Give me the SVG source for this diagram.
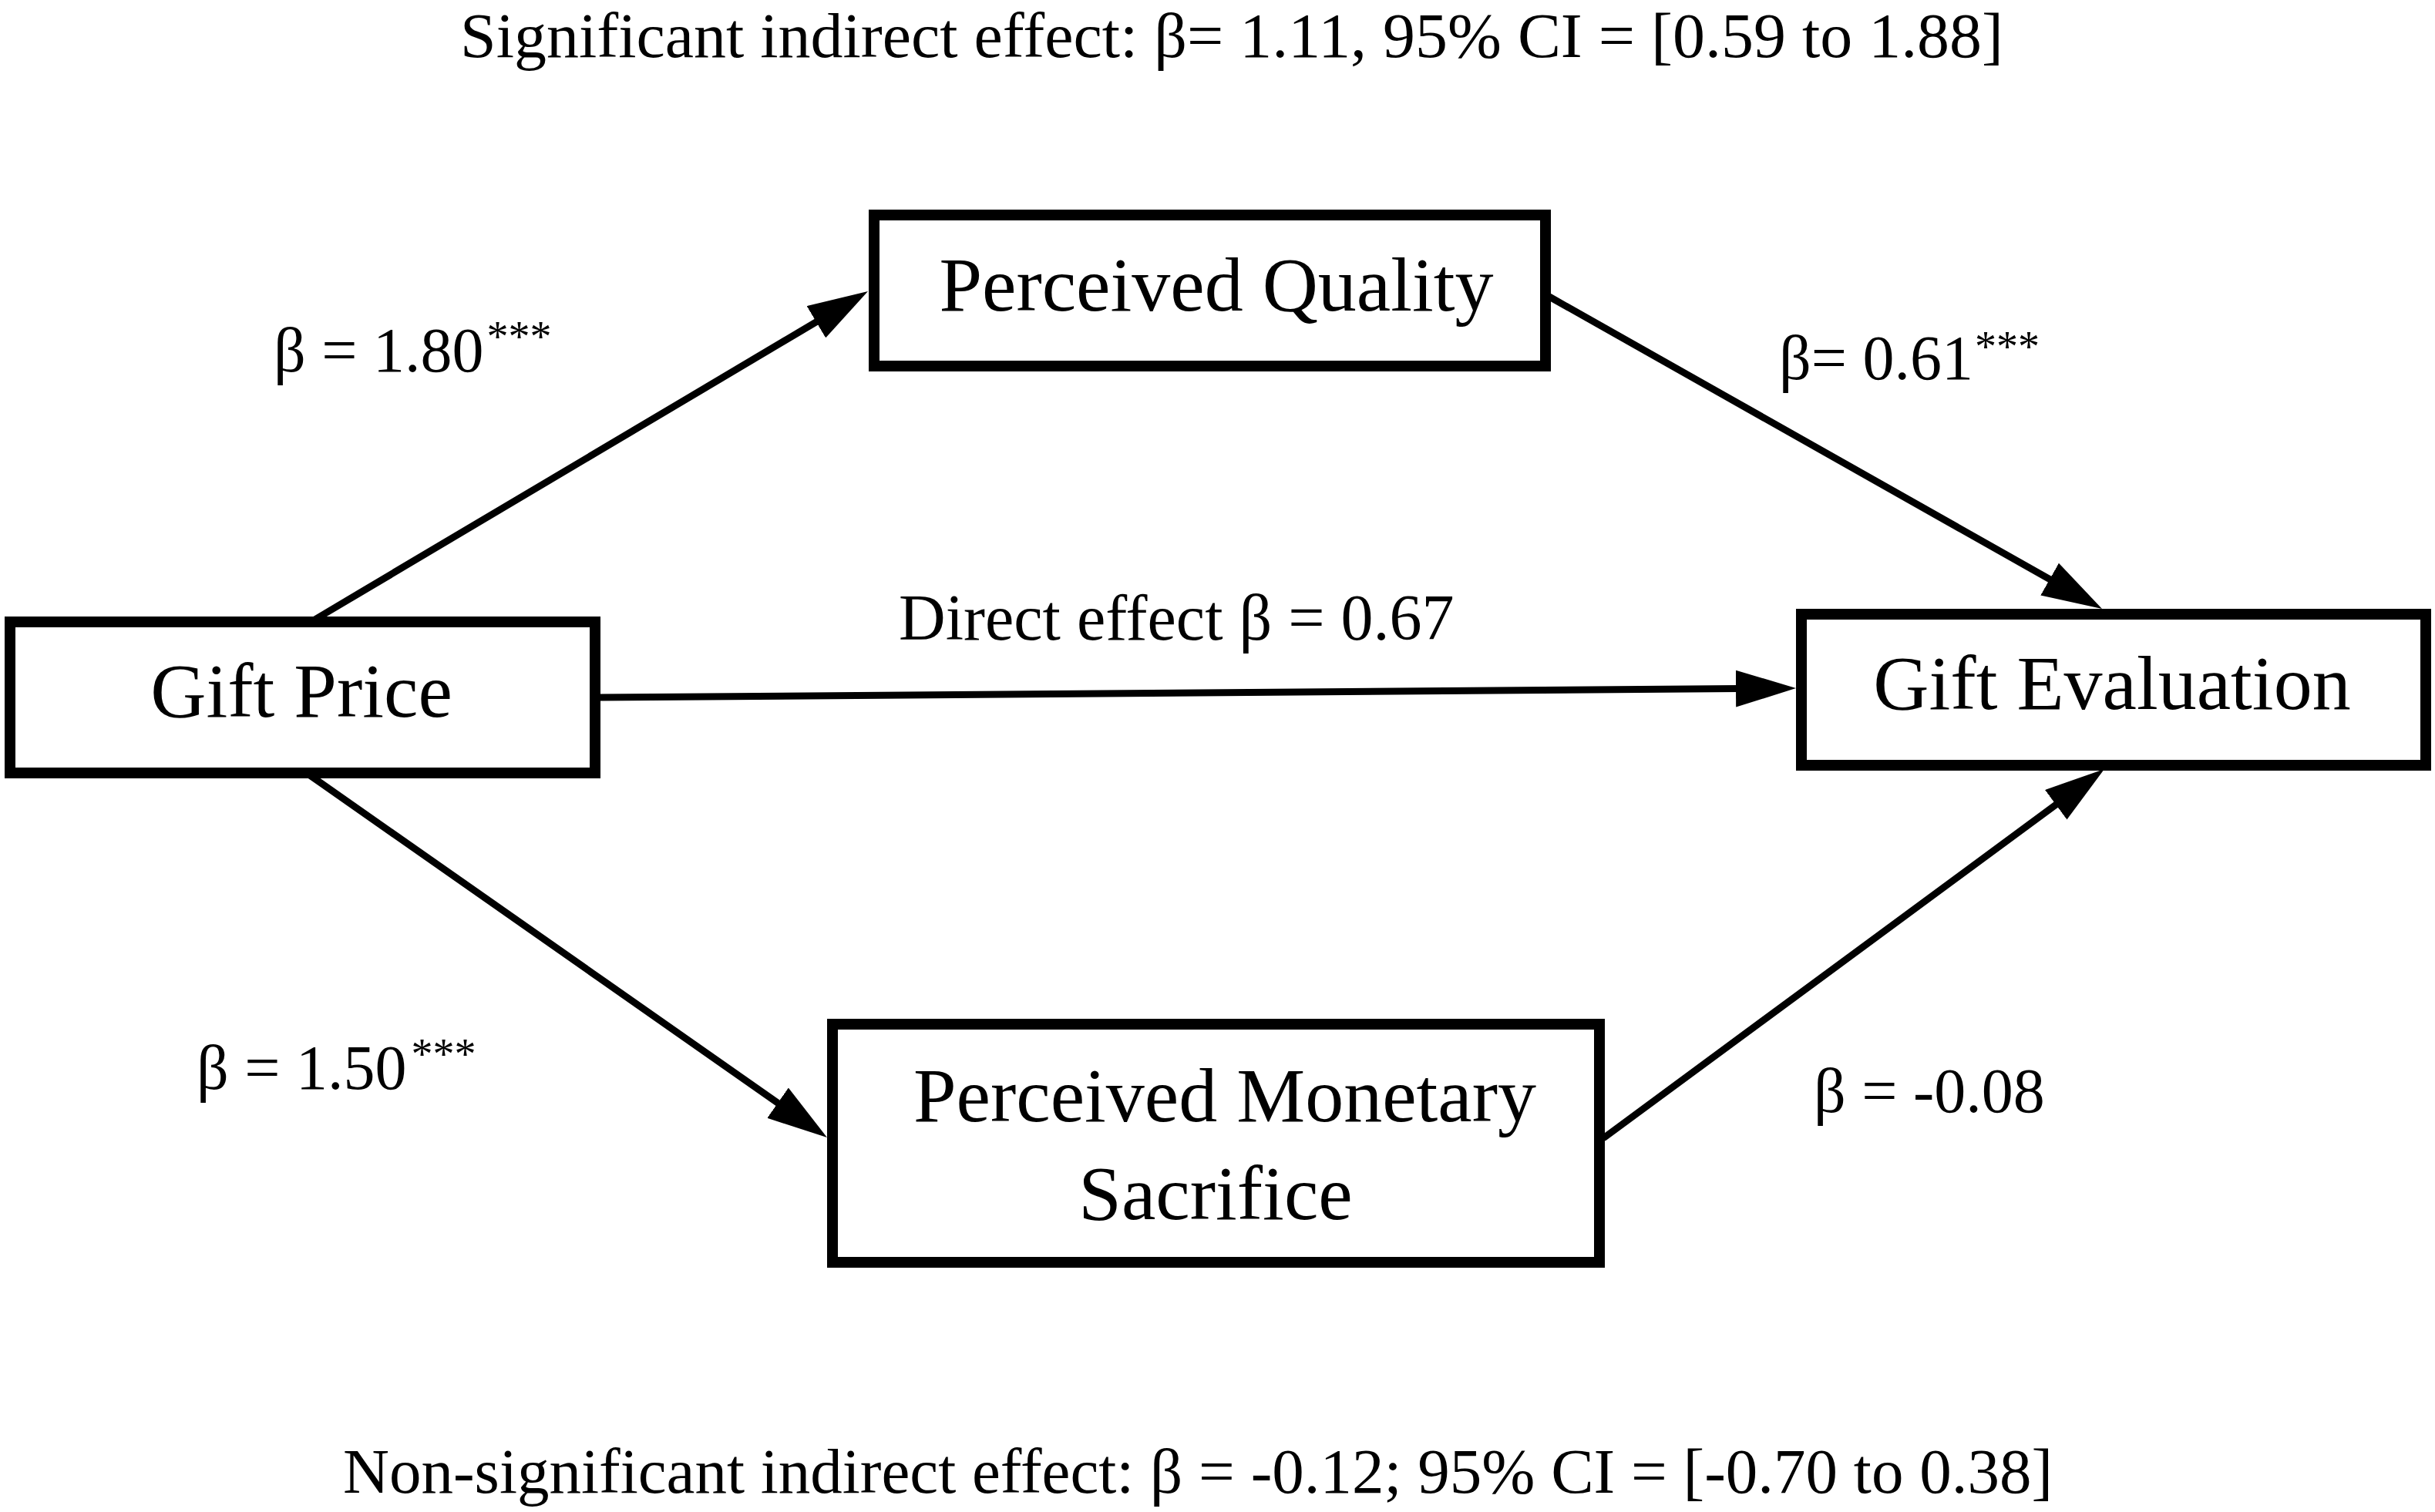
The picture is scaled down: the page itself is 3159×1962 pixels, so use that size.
<svg xmlns="http://www.w3.org/2000/svg" width="3159" height="1962" viewBox="0 0 3159 1962">
<style>
.box{fill:#fff;stroke:#000;stroke-width:14}
.lbl{font-family:"Liberation Serif","Times New Roman",serif;fill:#000}
.node{font-size:100px;text-anchor:middle}
.edge{stroke:#000;stroke-width:9;fill:none}
.sup{font-size:56px}
</style>
<defs>
<marker id="arr" viewBox="0 0 78 48" refX="38" refY="24" markerWidth="78" markerHeight="48" markerUnits="userSpaceOnUse" orient="auto">
<path d="M0,0 L78,24 L0,48 z" fill="#000"/>
</marker>
</defs>
<rect width="3159" height="1962" fill="#fff"/>
<g id="connectors">
<line class="edge" x1="405" y1="806" x2="1091.6" y2="398.4" marker-end="url(#arr)"/>
<line class="edge" x1="402" y1="1006" x2="1040.2" y2="1453" marker-end="url(#arr)"/>
<line class="edge" x1="778" y1="905" x2="2290" y2="893.3" marker-end="url(#arr)"/>
<line class="edge" x1="2010" y1="385" x2="2692.2" y2="770.3" marker-end="url(#arr)"/>
<line class="edge" x1="2080" y1="1477" x2="2697.8" y2="1021.7" marker-end="url(#arr)"/>
</g>
<g id="node-gift-price">
<rect class="box" x="13" y="807" width="759" height="196"/>
<text class="lbl node" x="391" y="930">Gift Price</text>
</g>
<g id="node-perceived-quality">
<rect class="box" x="1134" y="279" width="871" height="196"/>
<text class="lbl node" x="1578" y="403">Perceived Quality</text>
</g>
<g id="node-gift-evaluation">
<rect class="box" x="2337" y="797" width="810" height="196"/>
<text class="lbl node" x="2740" y="920">Gift Evaluation</text>
</g>
<g id="node-perceived-monetary-sacrifice">
<rect class="box" x="1080" y="1329" width="995" height="309"/>
<text class="lbl node" x="1589" y="1455">Perceived Monetary</text>
<text class="lbl node" x="1577" y="1582">Sacrifice</text>
</g>
<g id="labels">
<text class="lbl" x="597" y="74" font-size="82" textLength="2002" lengthAdjust="spacingAndGlyphs">Significant indirect effect: β= 1.11, 95% CI = [0.59 to 1.88]</text>
<text class="lbl" x="355" y="482" font-size="82">β = 1.80<tspan class="sup" dx="4" dy="-26">***</tspan></text>
<text class="lbl" x="2308" y="492" font-size="82">β= 0.61<tspan class="sup" dx="2" dy="-23">***</tspan></text>
<text class="lbl" x="1166" y="830" font-size="84">Direct effect β = 0.67</text>
<text class="lbl" x="255" y="1413" font-size="82">β = 1.50<tspan class="sup" dx="6" dy="-26">***</tspan></text>
<text class="lbl" x="2353" y="1443" font-size="82">β = -0.08</text>
<text class="lbl" x="445" y="1937" font-size="83">Non-significant indirect effect: β = -0.12; 95% CI = [-0.70 to 0.38]</text>
</g>
</svg>
